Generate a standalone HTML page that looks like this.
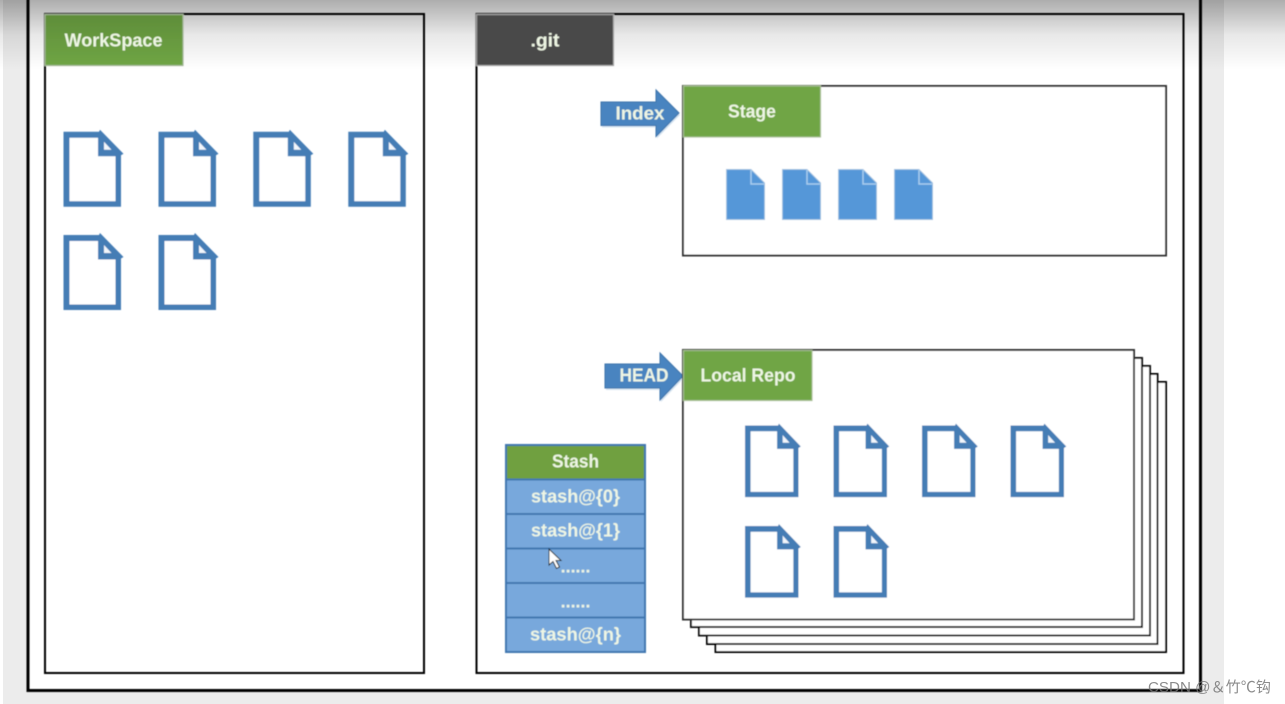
<!DOCTYPE html>
<html><head><meta charset="utf-8"><style>
html,body{margin:0;padding:0;width:1285px;height:704px;overflow:hidden;background:#fff}
svg{display:block}
text{font-family:"Liberation Sans","Noto Sans CJK SC",sans-serif;font-weight:bold;text-anchor:middle;fill:#eef6e4;font-size:18.500px}
</style></head><body>
<svg width="1285" height="704" viewBox="0 0 1285 704" xmlns="http://www.w3.org/2000/svg">
<defs>
<linearGradient id="top" x1="0" y1="0" x2="0" y2="1"><stop offset="0" stop-color="#000" stop-opacity=".32"/><stop offset=".5" stop-color="#000" stop-opacity=".09"/><stop offset="1" stop-color="#000" stop-opacity="0"/></linearGradient>
<linearGradient id="grn" x1="0" y1="0" x2="0" y2="1"><stop offset="0" stop-color="#5f8d39"/><stop offset="1" stop-color="#6fa545"/></linearGradient>
<filter id="b" x="-5%" y="-5%" width="110%" height="110%"><feGaussianBlur stdDeviation=".55"/></filter>
<g id="doc">
<path d="M0 0H35.500L36.500-2L60 22L57.500 23.500V75H0Z" fill="#447db5"/>
<path d="M6 6H34.500V24.500H52V69.500H6Z" fill="#fff"/>
<path d="M40.500 10L48 18H40.500Z" fill="#f2f6fb"/>
</g>
<g id="bdoc">
<path d="M.5 .5H25L38.500 14V50.500H.5Z" fill="#5597d8" stroke="#9dbfe0"/>
<path d="M25 1V15H38" fill="none" stroke="#a9cdee" stroke-width="1.500"/>
</g>
</defs>
<rect width="1285" height="704" fill="#fff"/>
<rect x="3" y="0" width="24" height="704" fill="#ececec"/>
<rect x="1202" y="0" width="22" height="704" fill="#ececec"/>
<rect x="3" y="692" width="1221" height="12" fill="#ececec"/>
<rect x="0" y="0" width="1285" height="70" fill="url(#top)"/>

<g filter="url(#b)">
<path d="M28 -2V690.500H1200.500V-2" fill="none" stroke="#000" stroke-width="3"/>
<rect x="45" y="14" width="379" height="659" fill="none" stroke="#000" stroke-width="2"/>
<rect x="476.500" y="14" width="707" height="659" fill="none" stroke="#000" stroke-width="2"/>

<rect x="45" y="14.500" width="138" height="51" fill="url(#grn)" stroke="#a5b89a" stroke-width="1.200"/>
<rect x="476.500" y="14.500" width="137" height="51" fill="#4a4a4a" stroke="#a8a8a8" stroke-width="1.200"/>

<use href="#doc" x="63.500" y="131.700"/><use href="#doc" x="158.500" y="131.700"/><use href="#doc" x="253.300" y="131.700"/><use href="#doc" x="348.300" y="131.700"/>
<use href="#doc" x="63.500" y="235"/><use href="#doc" x="158.500" y="235"/>

<rect x="683" y="86" width="483" height="169.500" fill="#fff" stroke="#333" stroke-width="2"/>
<rect x="683.500" y="86" width="137" height="51" fill="#6fa545" stroke="#a9c094" stroke-width="1.200"/>
<use href="#bdoc" x="726" y="169"/><use href="#bdoc" x="782" y="169"/><use href="#bdoc" x="838" y="169"/><use href="#bdoc" x="894" y="169"/>

<path d="M602 104H657V92L680 115L657 138.500V127.500H602Z" fill="#b9d0e6" opacity=".6"/>
<path d="M606 366H661V355L684 378L661 402V390H606Z" fill="#b9d0e6" opacity=".6"/>
<path d="M601 102H656V90L679 113L656 136.500V125.500H601Z" fill="#4a84c0" stroke="#3e74ab"/>
<path d="M605 364H660V353L683 376L660 400V388H605Z" fill="#4a84c0" stroke="#3e74ab"/>

<rect x="715.500" y="382" width="450.500" height="270" fill="#fff" stroke="#000" stroke-width="2"/>
<rect x="707" y="374" width="450.500" height="270" fill="#fff" stroke="#000" stroke-width="2"/>
<rect x="699" y="366" width="451" height="269.500" fill="#fff" stroke="#111" stroke-width="2"/>
<rect x="691" y="358" width="451" height="269" fill="#fff" stroke="#111" stroke-width="2"/>
<rect x="683" y="350" width="451" height="269.500" fill="#fff" stroke="#333" stroke-width="2"/>
<rect x="683.500" y="350.500" width="128.500" height="50" fill="#6fa545" stroke="#a9c094" stroke-width="1.200"/>
<g transform="translate(745 425.500) scale(.93 .955)"><use href="#doc"/></g>
<g transform="translate(833.500 425.500) scale(.93 .955)"><use href="#doc"/></g>
<g transform="translate(922 425.500) scale(.93 .955)"><use href="#doc"/></g>
<g transform="translate(1010.500 425.500) scale(.93 .955)"><use href="#doc"/></g>
<g transform="translate(745 526) scale(.93 .955)"><use href="#doc"/></g>
<g transform="translate(833.500 526) scale(.93 .955)"><use href="#doc"/></g>

<g stroke="#3f77b0" stroke-width="2">
<rect x="506" y="445" width="139" height="34.500" fill="#6fa040"/>
<rect x="506" y="479.500" width="139" height="34.500" fill="#78a8dc"/>
<rect x="506" y="514" width="139" height="34.500" fill="#78a8dc"/>
<rect x="506" y="548.500" width="139" height="34.500" fill="#78a8dc"/>
<rect x="506" y="583" width="139" height="34.500" fill="#78a8dc"/>
<rect x="506" y="617.500" width="139" height="34.500" fill="#78a8dc"/>
</g>

<text x="113.500" y="46.500" textLength="98" lengthAdjust="spacingAndGlyphs">WorkSpace</text>
<text x="545" y="46.500" textLength="29" lengthAdjust="spacingAndGlyphs">.git</text>
<text x="752" y="117.500" textLength="48" lengthAdjust="spacingAndGlyphs">Stage</text>
<text x="640" y="119.500" textLength="49" lengthAdjust="spacingAndGlyphs">Index</text>
<text x="644" y="381.500" textLength="49" lengthAdjust="spacingAndGlyphs">HEAD</text>
<text x="748" y="381.500" textLength="95" lengthAdjust="spacingAndGlyphs">Local Repo</text>
<text x="575.500" y="467.500" textLength="47" lengthAdjust="spacingAndGlyphs">Stash</text>
<text x="575.500" y="502.500" textLength="89" lengthAdjust="spacingAndGlyphs">stash@{0}</text>
<text x="575.500" y="536.500" textLength="89" lengthAdjust="spacingAndGlyphs">stash@{1}</text>
<text x="575.500" y="572.500" textLength="30" lengthAdjust="spacing">......</text>
<text x="575.500" y="607.500" textLength="30" lengthAdjust="spacing">......</text>
<text x="575.500" y="640.500" textLength="91" lengthAdjust="spacingAndGlyphs">stash@{n}</text>

<path d="M549 549V565L553 561.500L556.500 568.500L559.500 567L556 560.500H561Z" fill="#fff" stroke="#222" stroke-width="1"/>
</g>

<text x="1209.500" y="692" textLength="123" lengthAdjust="spacingAndGlyphs" style="font-weight:normal;font-size:15px;fill:#777;fill-opacity:.85">CSDN @＆竹℃钩</text>
</svg>
</body></html>
